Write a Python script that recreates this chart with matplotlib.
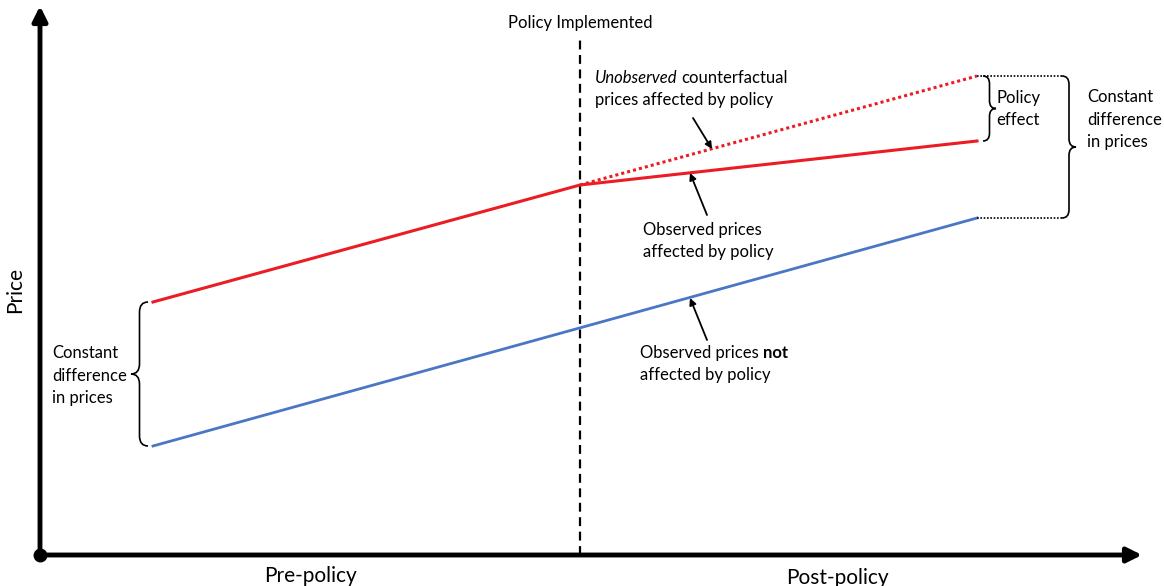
import matplotlib.pyplot as plt
from matplotlib.path import Path
from matplotlib.patches import PathPatch

plt.rcParams['font.family'] = ['Lato', 'DejaVu Sans']

# values (x = time, y = price, in picture units)
time_pts = [153, 580, 977]
treated_obs = [284, 401, 445]
treated_cf = [401, 510]          # counterfactual from policy date to end
control = [140, 368]             # at time_pts[0] and time_pts[2]
policy_time = 580

RED = '#ec1c24'
BLUE = '#4a76c6'

fig = plt.figure(figsize=(11.64, 5.86), dpi=100)
ax = fig.add_axes([0, 0, 1, 1])
ax.set_xlim(0, 1164)
ax.set_ylim(0, 586)
ax.axis('off')


def brace(x, ylo, yhi, w, lw=1.2):
    ym = (ylo + yhi) / 2
    xm = x + w / 2
    d = min(abs(w) * 0.6, (yhi - ylo) / 4)
    verts = [(x, yhi), (xm, yhi), (xm, yhi - d), (xm, ym + d), (xm, ym), (x + w, ym),
             (xm, ym), (xm, ym - d), (xm, ylo + d), (xm, ylo), (x, ylo)]
    codes = [Path.MOVETO, Path.CURVE3, Path.CURVE3, Path.LINETO, Path.CURVE3, Path.CURVE3,
             Path.CURVE3, Path.CURVE3, Path.LINETO, Path.CURVE3, Path.CURVE3]
    ax.add_patch(PathPatch(Path(verts, codes), fill=False, lw=lw, color='black'))


def pointer(tail, head):
    ax.annotate('', xy=head, xytext=tail,
                arrowprops=dict(arrowstyle='-|>', lw=1.3, color='black', mutation_scale=10,
                                shrinkA=0, shrinkB=0))


# axes with arrows
ax.annotate('', xy=(1142, 31), xytext=(40, 31),
            arrowprops=dict(arrowstyle='-|>', lw=3.5, color='black', mutation_scale=22,
                            shrinkA=0, shrinkB=0))
ax.annotate('', xy=(40, 580), xytext=(40, 31),
            arrowprops=dict(arrowstyle='-|>', lw=3.5, color='black', mutation_scale=22,
                            shrinkA=0, shrinkB=0))
ax.plot([40], [31], 'o', color='black', ms=9)

fs = 12
ls = 1.5

# policy line
ax.plot([policy_time, policy_time], [31, 546], color='black', lw=1.6, ls=(0, (4, 2.5)))
ax.text(policy_time, 563, 'Policy Implemented', ha='center', va='center', fontsize=fs)

# series
ax.plot(time_pts, treated_obs, color=RED, lw=2.2)
ax.plot(time_pts[1:], treated_cf, color=RED, lw=2.2, ls=(0, (1, 1)))
ax.plot([time_pts[0], time_pts[2]], control, color=BLUE, lw=2.0)

# dotted connectors at the right
ax.plot([time_pts[2], 1062], [treated_cf[1]] * 2, color='black', lw=1.2, ls=(0, (1, 1)))
ax.plot([time_pts[2], 1062], [control[1]] * 2, color='black', lw=1.2, ls=(0, (1, 1)))

# braces
brace(983, treated_obs[2], treated_cf[1], 13)
brace(1062, control[1], treated_cf[1], 14)
brace(148, control[0], treated_obs[0], -17)

ax.text(996, 477, 'Policy\neffect', ha='left', va='center', fontsize=fs, linespacing=ls)
ax.text(1087, 466, 'Constant\ndifference\nin prices', ha='left', va='center', fontsize=fs,
        linespacing=ls)
ax.text(52, 210, 'Constant\ndifference\nin prices', ha='left', va='center', fontsize=fs,
        linespacing=ls)

# annotations
t1 = ax.text(595, 508, 'Unobserved', ha='left', va='center', fontsize=fs, style='italic')
ax.annotate('counterfactual', xy=(1, 0), xycoords=t1, xytext=(2.5, 0),
            textcoords='offset points', ha='left', va='bottom', fontsize=fs)
ax.text(595, 486, 'prices affected by policy', ha='left', va='center', fontsize=fs)
pointer((693, 468), (712, 437))

ax.text(643, 345, 'Observed prices\naffected by policy', ha='left', va='center', fontsize=fs,
        linespacing=ls)
pointer((707, 371), (690, 413))

t2 = ax.text(640, 233, 'Observed prices ', ha='left', va='center', fontsize=fs)
ax.annotate('not', xy=(1, 0), xycoords=t2, ha='left', va='bottom', fontsize=fs,
            fontweight='bold')
ax.text(640, 211, 'affected by policy', ha='left', va='center', fontsize=fs)
pointer((707, 246), (690, 288))

# axis labels
ax.text(15, 296, 'Price', rotation=90, ha='center', va='center', fontsize=15)
ax.text(310, 10, 'Pre-policy', ha='center', va='center', fontsize=15)
ax.text(837, 8, 'Post-policy', ha='center', va='center', fontsize=15)

fig.savefig('out.png', dpi=100)
